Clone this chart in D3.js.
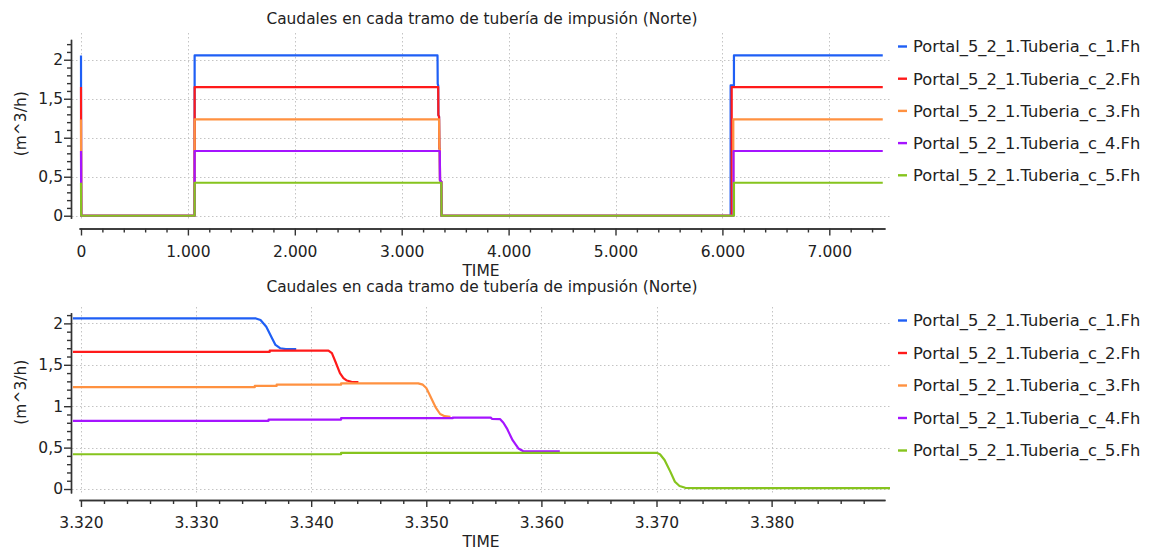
<!DOCTYPE html>
<html>
<head>
<meta charset="utf-8">
<script src="https://cdn.jsdelivr.net/npm/d3@7"></script>
<style>
  html, body { margin: 0; padding: 0; background: #fff; }
  svg { display: block; }
  text { font-family: "DejaVu Sans", sans-serif; fill: #222; }
</style>
</head>
<body>
<svg id="chart" width="1150" height="554"></svg>
<script>
// ---- Data -------------------------------------------------------------
const seriesNames = [
  "Portal_5_2_1.Tuberia_c_1.Fh",
  "Portal_5_2_1.Tuberia_c_2.Fh",
  "Portal_5_2_1.Tuberia_c_3.Fh",
  "Portal_5_2_1.Tuberia_c_4.Fh",
  "Portal_5_2_1.Tuberia_c_5.Fh"
];
const seriesColors = ["#1f5ff5", "#ff1a1a", "#ff9140", "#a514ff", "#86c41e"];

const chartTitle = "Caudales en cada tramo de tubería de impusión (Norte)";
const xAxisTitle = "TIME";
const yAxisTitle = "(m^3/h)";

// Full run, [time s, flow m^3/h]
const fullC1 = [[0,2.055],[2,0],[1063,0],[1063,2.055],[3335,2.055],[3337,1.69],[3341.5,1.67],[3343,1.29],[3349.5,1.27],[3352,0.87],[3356.4,0.855],[3358.4,0.455],[3370,0.437],[3372.5,0],[6077,0],[6077,1.67],[6108,1.67],[6108,2.055],[7500,2.055]];
const fullC2 = [[0,1.65],[2,0],[1063,0],[1063,1.65],[3341.5,1.65],[3343,1.29],[3349.5,1.27],[3352,0.87],[3356.4,0.855],[3358.4,0.455],[3370,0.437],[3372.5,0],[6087,0],[6087,1.65],[7500,1.65]];
const fullC3 = [[0,1.235],[2,0],[1063,0],[1063,1.235],[3349.5,1.235],[3352,0.87],[3356.4,0.855],[3358.4,0.455],[3370,0.437],[3372.5,0],[6102,0],[6102,1.235],[7500,1.235]];
const fullC4 = [[0,0.83],[2,0],[1063,0],[1063,0.83],[3356.4,0.83],[3358.4,0.455],[3370,0.437],[3372.5,0],[6104,0],[6104,0.83],[7500,0.83]];
const fullC5 = [[0,0.423],[2,0],[1063,0],[1063,0.423],[3370,0.423],[3372.5,0],[6108,0],[6108,0.423],[7500,0.423]];

// Shutdown detail, [time s, flow m^3/h]
const stopC1 = [[3319.3,2.06],[3335.2,2.06],[3335.6,2.04],[3336.1,1.96],[3336.6,1.82],[3336.9,1.74],[3337.3,1.70],[3337.8,1.69],[3338.7,1.69]];
const stopC2 = [[3319.3,1.655],[3336.4,1.655],[3336.4,1.672],[3341.5,1.672],[3341.8,1.64],[3342.1,1.54],[3342.5,1.40],[3342.8,1.34],[3343.1,1.31],[3343.5,1.295],[3344.1,1.29]];
const stopC3 = [[3319.3,1.23],[3335.1,1.23],[3335.1,1.245],[3337.0,1.245],[3337.0,1.26],[3342.6,1.26],[3342.6,1.275],[3349.3,1.275],[3349.7,1.26],[3350.0,1.22],[3350.3,1.135],[3350.8,0.99],[3351.2,0.906],[3351.6,0.88],[3352.1,0.873]];
const stopC4 = [[3319.3,0.823],[3336.3,0.823],[3336.3,0.838],[3342.6,0.838],[3342.6,0.855],[3352.3,0.855],[3352.3,0.862],[3355.6,0.862],[3355.7,0.848],[3356.4,0.845],[3356.7,0.80],[3357.0,0.733],[3357.5,0.59],[3358.0,0.49],[3358.4,0.459],[3359.0,0.455],[3361.6,0.455]];
const stopC5 = [[3319.3,0.42],[3342.6,0.42],[3342.6,0.437],[3370.0,0.437],[3370.3,0.42],[3370.7,0.35],[3371.2,0.21],[3371.6,0.088],[3372.0,0.036],[3372.5,0.015],[3373.5,0.01],[3390.3,0.01]];

const fullSeries = [fullC1, fullC2, fullC3, fullC4, fullC5];
const stopSeries = [stopC1, stopC2, stopC3, stopC4, stopC5];

// Tick values
const yTicks = [0, 0.5, 1, 1.5, 2];
const fullXTicks = [0, 1000, 2000, 3000, 4000, 5000, 6000, 7000];
const stopXTicks = [3320, 3330, 3340, 3350, 3360, 3370, 3380];
const fullXMinorStep = 200;
const stopXMinorStep = 2;
const yMinorStep = 0.1;

// ---- Drawing ----------------------------------------------------------
const es = d3.formatLocale({ decimal: ",", thousands: ".", grouping: [3], currency: ["", " €"] });
const fmtX = es.format(",d");
const fmtY = es.format(".1~f");

const svg = d3.select("#chart");

function minorValues(domain, step, majors) {
  const out = [];
  const start = Math.ceil(domain[0] / step - 1e-9);
  const end = Math.floor(domain[1] / step + 1e-9);
  for (let i = start; i <= end; i++) {
    const v = +(i * step).toFixed(6);
    if (!majors.some(m => Math.abs(m - v) < step / 10)) out.push(v);
  }
  return out;
}

function drawPanel(cfg, idx) {
  const g = svg.append("g");
  const x = d3.scaleLinear().domain(cfg.xDomain).range(cfg.xRange);
  const y = d3.scaleLinear().domain(cfg.yDomain).range(cfg.yRange);
  const p = cfg.plot;

  // title
  g.append("text").attr("x", 482).attr("y", cfg.titleY)
    .attr("text-anchor", "middle").style("font-size", "15.4px").text(chartTitle);

  // grid
  const grid = g.append("g").attr("stroke", "#c4c4c4").attr("stroke-width", 1)
    .attr("stroke-dasharray", "1.5,2.5");
  grid.selectAll(".gx").data(cfg.xTicks).join("line")
    .attr("x1", d => Math.round(x(d)) + 0.5).attr("x2", d => Math.round(x(d)) + 0.5)
    .attr("y1", p.top).attr("y2", p.bottom);
  grid.selectAll(".gy").data(yTicks).join("line")
    .attr("y1", d => Math.round(y(d)) + 0.5).attr("y2", d => Math.round(y(d)) + 0.5)
    .attr("x1", p.left).attr("x2", p.right);

  // x axis
  const xMinor = minorValues(cfg.xDomain, cfg.xMinorStep, cfg.xTicks);
  const gxm = g.append("g").attr("transform", `translate(0,${cfg.xAxisY})`)
    .call(d3.axisBottom(x).tickValues(xMinor).tickSize(4).tickSizeOuter(0).tickFormat(""));
  const gx = g.append("g").attr("transform", `translate(0,${cfg.xAxisY})`)
    .call(d3.axisBottom(x).tickValues(cfg.xTicks).tickSize(7).tickSizeOuter(0).tickPadding(10).tickFormat(fmtX));
  [gxm, gx].forEach(a => {
    a.select(".domain").attr("stroke", "#333").attr("stroke-width", 1.6);
    a.selectAll(".tick line").attr("stroke", "#333").attr("stroke-width", 1.4);
  });
  gx.selectAll(".tick text").style("font-size", "15.5px").attr("fill", "#222");

  g.append("text").attr("x", 481).attr("y", cfg.xAxisY + 47)
    .attr("text-anchor", "middle").style("font-size", "15.5px").text(xAxisTitle);

  // y axis
  const yMinor = minorValues(cfg.yDomain, yMinorStep, yTicks);
  const gym = g.append("g").attr("transform", `translate(${cfg.yAxisX},0)`)
    .call(d3.axisLeft(y).tickValues(yMinor).tickSize(4).tickSizeOuter(0).tickFormat(""));
  const gy = g.append("g").attr("transform", `translate(${cfg.yAxisX},0)`)
    .call(d3.axisLeft(y).tickValues(yTicks).tickSize(7).tickSizeOuter(0).tickPadding(1).tickFormat(fmtY));
  [gym, gy].forEach(a => {
    a.select(".domain").attr("stroke", "#333").attr("stroke-width", 1.4);
    a.selectAll(".tick line").attr("stroke", "#333").attr("stroke-width", 1.4);
  });
  gy.selectAll(".tick text").style("font-size", "15.5px").attr("fill", "#222");

  const yMid = (y(0) + y(2)) / 2 - 14;
  g.append("text").attr("transform", `translate(26,${yMid}) rotate(-90)`)
    .attr("text-anchor", "middle").style("font-size", "15.5px").text(yAxisTitle);

  // series
  const clipId = "clip" + idx;
  svg.append("clipPath").attr("id", clipId).append("rect")
    .attr("x", p.left).attr("y", p.top - 5).attr("width", p.right - p.left).attr("height", p.bottom - p.top + 10);
  const line = d3.line().x(d => x(d[0])).y(d => y(d[1]));
  g.append("g").attr("clip-path", `url(#${clipId})`)
    .selectAll("path").data(cfg.series).join("path")
    .attr("d", line).attr("fill", "none")
    .attr("stroke", (d, i) => seriesColors[i]).attr("stroke-width", 2.2)
    .attr("stroke-linejoin", "round");

  // legend
  const lg = g.append("g").selectAll("g").data(seriesNames).join("g")
    .attr("transform", (d, i) => `translate(898,${cfg.legendY + i * cfg.legendStep})`);
  lg.append("line").attr("x1", 0).attr("x2", 9).attr("y1", 0).attr("y2", 0)
    .attr("stroke", (d, i) => seriesColors[i]).attr("stroke-width", 2.4);
  lg.append("text").attr("x", 15).attr("y", 0).attr("dy", "0.36em")
    .style("font-size", "16.3px").text(d => d);
}

drawPanel({
  titleY: 24,
  plot: { left: 72, right: 890, top: 33, bottom: 221 },
  xDomain: [-18.7, 7521], xRange: [79, 885], xAxisY: 228.5,
  yDomain: [-0.033, 2.262], yRange: [218.3, 39.3], yAxisX: 71,
  xTicks: fullXTicks, xMinorStep: fullXMinorStep,
  series: fullSeries, legendY: 46.5, legendStep: 32.2
}, 0);

drawPanel({
  titleY: 292,
  plot: { left: 72, right: 890, top: 307, bottom: 494 },
  xDomain: [3319.83, 3389.85], xRange: [79, 885], xAxisY: 500,
  yDomain: [-0.048, 2.129], yRange: [493, 312.7], yAxisX: 71,
  xTicks: stopXTicks, xMinorStep: stopXMinorStep,
  series: stopSeries, legendY: 320.5, legendStep: 32.5
}, 1);
</script>
</body>
</html>
